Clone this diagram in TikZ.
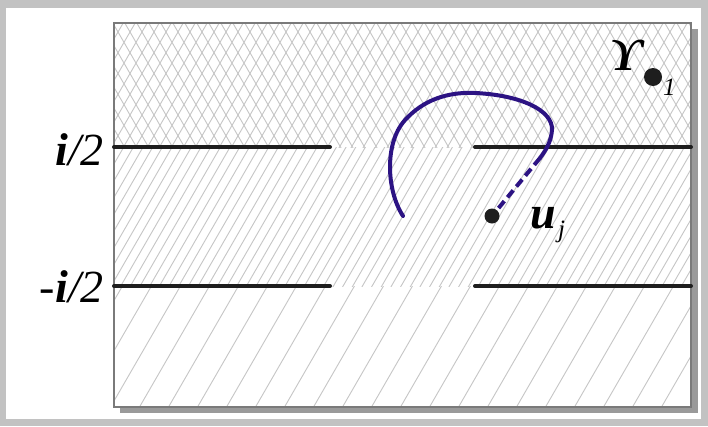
\documentclass[tikz,border=0pt]{standalone}
\usepackage{fontspec}
\setmainfont{Liberation Serif}
\usetikzlibrary{positioning}
\definecolor{PageGrey}{HTML}{C2C2C2}
\definecolor{FrameGrey}{HTML}{7A7A7A}
\definecolor{ShadeGrey}{HTML}{9A9A9A}
\definecolor{HatchGrey}{HTML}{C6C6C6}
\definecolor{PathInk}{HTML}{2C1383}
\definecolor{CutInk}{HTML}{1E1E1E}

\begin{document}
\begin{tikzpicture}[
    x=1pt, y=-1pt,
    hatch/.style={HatchGrey, line width=0.9pt},
    cut/.style={CutInk, line width=4pt, line cap=round},
    curve/.style={PathInk, line width=4pt, line cap=round},
    lbl/.style={font=\fontsize{46}{50}\selectfont\itshape, inner sep=0pt},
    sub/.style={font=\fontsize{25}{28}\selectfont\itshape, inner sep=0pt},
    pt/.style={circle, fill=CutInk, inner sep=0pt, minimum size=#1},
    pt/.default=15pt,
  ]
    \useasboundingbox (0,0) rectangle (708,426);
    \fill[PageGrey] (0,0) rectangle (708,426);
    \fill[white] (6,8) rectangle (701,419);

    % frame with its shadow
    \fill[ShadeGrey] (120,29) rectangle (698,413);
    \fill[white] (114,23) rectangle (691,407);

    % upper half plane: cross hatching
    \begin{scope}
      \clip (114,23) rectangle (691,147);
      \foreach \x in {0,12,...,840} {
        \draw[hatch] (\x-100,160) -- ++(100,-173);
        \draw[hatch] (\x,160) -- ++(-100,-173);
      }
    \end{scope}
    % strip: dense hatching
    \begin{scope}
      \clip (114,147) rectangle (691,286);
      \foreach \x in {0,9.667,...,900} {
        \draw[hatch] (\x-100,300) -- ++(100,-173);
      }
    \end{scope}
    % lower half plane: sparse hatching
    \begin{scope}
      \clip (114,286) rectangle (691,407);
      \foreach \x in {0,29,...,900} {
        \draw[hatch] (\x-100,420) -- ++(100,-173);
      }
    \end{scope}

    \draw[FrameGrey, line width=1.4pt] (114,23) rectangle (691,407);

    % cuts at +-i/2
    \coordinate (hiL) at (114,147);
    \coordinate (hiA) at (330,147);
    \coordinate (hiB) at (475,147);
    \coordinate (hiR) at (691,147);
    \coordinate (loL) at (114,286);
    \coordinate (loA) at (330,286);
    \coordinate (loB) at (475,286);
    \coordinate (loR) at (691,286);
    \draw[cut] (hiL) -- (hiA);
    \draw[cut] (hiB) -- (hiR);
    \draw[cut] (loL) -- (loA);
    \draw[cut] (loB) -- (loR);

    \node[lbl, anchor=east] (hilbl) at (104,150) {\textbf{i}/2};
    \node[lbl, anchor=east] (lolbl) at (104,287) {-\textbf{i}/2};

    % contour and the point u_j
    \node[pt] (uj) at (492,216) {};
    \node[lbl, anchor=base west] (ujlbl) at (530,228) {\textbf{u}};
    \node[sub, anchor=base west] (ujsub) at ([xshift=2pt]ujlbl.base east) {\raisebox{-9pt}{j}};
    \coordinate (c0) at (403,216);
    \coordinate (c1) at (540,158);
    \draw[curve] (c0) .. controls (386,190) and (384,140) .. (407,118)
      .. controls (428,96) and (455,92) .. (475,93)
      .. controls (520,95) and (553,110) .. (552,130)
      .. controls (551,142) and (546,150) .. (c1);
    \draw[curve, line cap=butt, dash pattern=on 9pt off 5pt] (c1) -- (uj);

    % marked point Y_1
    \node[lbl, anchor=base west] (ups) at (609,70) {\textbf{ϒ}};
    \node[pt=18pt] (ydot) at (653,77) {};
    \node[sub, anchor=base west] (ysub) at (663,95) {1};
\end{tikzpicture}
\end{document}
